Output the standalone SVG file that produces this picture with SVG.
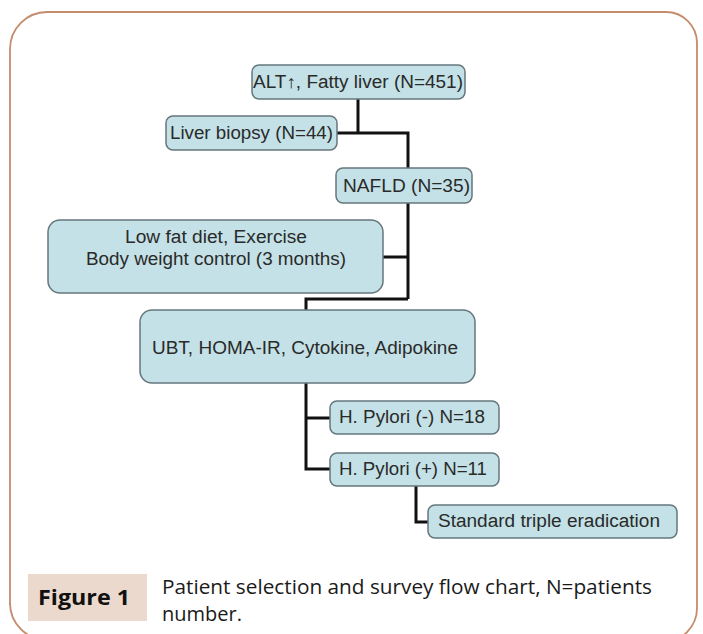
<svg xmlns="http://www.w3.org/2000/svg" width="703" height="634" viewBox="0 0 703 634">
<defs>
<style>
.box{fill:#c3e1e6;stroke:#65777d;stroke-width:1.5}
.t{font-family:"Liberation Sans",Arial,sans-serif;font-size:18px;fill:#2a2a2a;text-anchor:middle}
.conn{fill:none;stroke:#111;stroke-width:3}
.cap{font-family:"Open Sans","Noto Sans",sans-serif;font-size:20px;fill:#1a1a1a}
</style>
</defs>
<rect width="703" height="634" fill="#ffffff"/>
<path d="M10,605 L10,49 A37,37 0 0 1 47,12 L666,12 A31,31 0 0 1 697,43 L697,608 A34,34 0 0 1 663,642" fill="none" stroke="#c48c6c" stroke-width="1.8"/>
<path d="M10,603 A37,37 0 0 0 47,640" fill="none" stroke="#c48c6c" stroke-width="1.8"/>
<g id="connectors">
<path class="conn" d="M358,99 V133"/>
<path class="conn" d="M337,133 H408 V168"/>
<path class="conn" d="M408,203 V299"/>
<path class="conn" d="M383,257 H408"/>
<path class="conn" d="M408,299 H306 V310"/>
<path class="conn" d="M306,383 V469 H330"/>
<path class="conn" d="M306,418 H330"/>
<path class="conn" d="M416,486 V522 H428"/>
</g>
<g id="n1">
<rect class="box" x="252" y="65" width="213" height="34" rx="7"/>
<text class="t" x="358" y="88" textLength="210" lengthAdjust="spacingAndGlyphs">ALT↑, Fatty liver (N=451)</text>
</g>
<g id="n2">
<rect class="box" x="166" y="116" width="171" height="34" rx="7"/>
<text class="t" x="251.5" y="139" textLength="163" lengthAdjust="spacingAndGlyphs">Liver biopsy (N=44)</text>
</g>
<g id="n3">
<rect class="box" x="336" y="168" width="136" height="35" rx="7"/>
<text class="t" x="406.5" y="192" textLength="127" lengthAdjust="spacingAndGlyphs">NAFLD (N=35)</text>
</g>
<g id="n4">
<rect class="box" x="48" y="220" width="335" height="73" rx="12"/>
<text class="t" x="216" y="243" textLength="182" lengthAdjust="spacingAndGlyphs">Low fat diet, Exercise</text>
<text class="t" x="216" y="265" textLength="260" lengthAdjust="spacingAndGlyphs">Body weight control (3 months)</text>
</g>
<g id="n5">
<rect class="box" x="140" y="310" width="335" height="73" rx="12"/>
<text class="t" x="305" y="354" textLength="306" lengthAdjust="spacingAndGlyphs">UBT, HOMA-IR, Cytokine, Adipokine</text>
</g>
<g id="n6">
<rect class="box" x="330" y="401" width="169" height="33" rx="7"/>
<text class="t" x="412" y="423" textLength="146" lengthAdjust="spacingAndGlyphs">H. Pylori (-) N=18</text>
</g>
<g id="n7">
<rect class="box" x="330" y="453" width="169" height="33" rx="7"/>
<text class="t" x="413" y="475" textLength="148" lengthAdjust="spacingAndGlyphs">H. Pylori (+) N=11</text>
</g>
<g id="n8">
<rect class="box" x="428" y="505" width="249" height="33" rx="7"/>
<text class="t" x="549" y="527" textLength="222" lengthAdjust="spacingAndGlyphs">Standard triple eradication</text>
</g>
<g id="caption">
<rect x="28" y="574" width="119" height="47" fill="#ebd9ce"/>
<text x="38" y="605" font-family="'Open Sans','Noto Sans',sans-serif" font-size="22" font-weight="bold" fill="#111" textLength="92" lengthAdjust="spacingAndGlyphs">Figure 1</text>
<text class="cap" x="162" y="594" textLength="490" lengthAdjust="spacingAndGlyphs">Patient selection and survey flow chart, N=patients</text>
<text class="cap" x="162" y="621">number.</text>
</g>
</svg>
